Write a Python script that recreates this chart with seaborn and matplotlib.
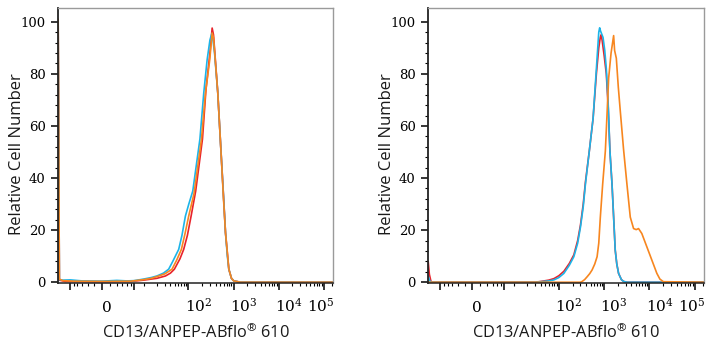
import numpy as np
import pandas as pd
import matplotlib
matplotlib.use("Agg")
import matplotlib.pyplot as plt
import matplotlib.transforms as mtransforms
import seaborn as sns
from matplotlib.ticker import FixedLocator, FixedFormatter

sns.set_theme(style="ticks")
plt.rcParams["font.family"] = ["Open Sans", "DejaVu Sans"]
plt.rcParams["mathtext.fontset"] = "dejavuserif"

# ---------------- data ----------------
series_names = ["Red", "Blue", "Orange"]
series_colors = {"Red": "#e8232b", "Blue": "#1db4e8", "Orange": "#f7861f"}

# left panel
left_red_x = [-11.5, -10.8, -8, 0, 5, 10, 20, 31, 40, 48.9, 65, 78.6, 95, 114.8, 145, 205, 245, 300, 336, 360, 448, 515, 600, 664, 787, 900, 1013, 1430, 1.6e5]
left_red_y = [99, 0.8, 0.3, 0.2, 0.3, 0.8, 1.5, 2.4, 3.5, 5, 9, 12.6, 18, 25.4, 35, 55, 74, 88, 97.6, 95, 72.7, 53.5, 33, 19, 5, 1.5, 0.5, 0, 0]

left_blue_x = [-11.5, -10.8, -9, -6, -3, 0, 2, 4, 6, 10, 15, 20, 28, 36.5, 45, 60.9, 72, 85.8, 102, 125, 180, 219, 260, 300, 330, 345, 380, 448, 515, 600, 664, 730, 787, 900, 1013, 1430, 1.6e5]
left_blue_y = [100, 1.0, 0.8, 0.9, 0.5, 0.4, 0.7, 0.5, 0.6, 1.2, 1.8, 2.4, 3.5, 5, 8, 12.6, 18, 25.4, 30, 35, 55, 72.7, 85.4, 93, 95.5, 94, 88, 72.7, 53.5, 33, 19, 10, 5, 1.5, 0.5, 0, 0]

left_orange_x = [-11.5, -10.8, -9, -5, 0, 5, 10, 15, 22, 30, 43.4, 55, 69.9, 85, 101.5, 133, 195, 239, 297, 336, 360, 448, 515, 600, 664, 787, 900, 1013, 1430, 1.6e5]
left_orange_y = [101, 1.2, 0.6, 0.4, 0.3, 0.4, 1.0, 1.5, 2.4, 3.2, 5, 8.5, 12.6, 19, 25.4, 34, 55, 72.7, 85.4, 95.7, 94, 72.7, 53.5, 32, 19, 5, 1.5, 0.5, 0, 0]

# right panel
right_red_x = [-11.5, -10.8, -10, -9.5, 30, 40, 60, 78, 100, 129, 170, 214, 260, 300, 345, 386, 470, 570, 673, 760, 820, 855, 900, 1000, 1115, 1230, 1340, 1490, 1618, 1755, 1900, 2080, 2400, 2680, 3200, 1.6e5]
right_red_y = [8, 3, 0.5, 0, 0, 0.3, 0.8, 1.4, 2.5, 4.2, 7.2, 10.5, 16, 22, 30, 38.5, 50.4, 63, 80, 90, 94, 95, 93, 87, 80, 67, 50.4, 37.7, 25, 12.3, 7, 3.4, 1, 0.3, 0, 0]

right_blue_x = [-11.5, -10.6, -9.5, 30, 40, 60, 78, 100, 129, 170, 214, 260, 300, 345, 386, 470, 570, 673, 760, 796, 830, 944, 1030, 1115, 1230, 1340, 1490, 1618, 1755, 1900, 2080, 2400, 2680, 3200, 1.6e5]
right_blue_y = [2.4, 0.5, 0, 0, 0.2, 0.5, 0.9, 1.8, 3.4, 6.5, 9.8, 15, 21.2, 29, 37.7, 50.4, 63, 82, 96, 97.7, 96.5, 94, 89, 82, 68, 50.4, 37.7, 25, 12.3, 7, 3.4, 1, 0.3, 0, 0]

right_orange_x = [-11.5, 300, 327, 370, 421, 480, 541, 620, 698, 760, 823, 928, 1062, 1160, 1256, 1420, 1618, 1700, 1855, 2050, 2270, 2680, 3180, 3770, 4460, 5100, 5740, 6780, 8750, 11290, 14560, 17000, 20300, 1.6e5]
right_orange_y = [0, 0, 0.3, 1.0, 2.1, 3.3, 4.7, 7, 9.8, 15, 25, 37.8, 50.4, 65, 78.4, 88, 94.7, 89, 86, 75, 65.7, 51, 37.7, 25, 20.6, 20.2, 20.6, 18.7, 13.6, 8.5, 3.4, 1.2, 0.2, 0]

x_major_ticks = [-6, 0, 6, 100, 1000, 10000, 100000]
x_major_labels = ["", r"$\mathregular{0}$", "", r"$\mathregular{10^2}$", r"$\mathregular{10^3}$", r"$\mathregular{10^4}$", r"$\mathregular{10^5}$"]
x_minor_ticks = [-5, -4, -3, -2, -1, 1, 2, 3, 4, 5, 10, 20, 30, 40, 50, 60, 70, 80, 90,
                 200, 300, 400, 500, 600, 700, 800, 900,
                 2000, 3000, 4000, 5000, 6000, 7000, 8000, 9000,
                 20000, 30000, 40000, 50000, 60000, 70000, 80000, 90000, 150000]
y_major_ticks = [0, 20, 40, 60, 80, 100]
y_minor_ticks = [4, 8, 12, 16, 24, 28, 32, 36, 44, 48, 52, 56, 64, 68, 72, 76, 84, 88, 92, 96]

x_label = r"CD13/ANPEP-ABflo$^{\mathregular{®}}$ 610"
y_label = "Relative Cell Number"

# horizontal nudges (pixels) of the x tick labels, as in the reference
x_label_nudge = [0, 4.5, 0, 10, 10, 10, -3]


def make_df(xs, ys):
    frames = []
    for name, x, y in zip(series_names, xs, ys):
        frames.append(pd.DataFrame({"x": x, "y": y, "series": name}))
    return pd.concat(frames, ignore_index=True)


left_df = make_df([left_red_x, left_blue_x, left_orange_x],
                  [left_red_y, left_blue_y, left_orange_y])
right_df = make_df([right_red_x, right_blue_x, right_orange_x],
                   [right_red_y, right_blue_y, right_orange_y])

W = 2.46


def fwd(x):
    return np.arcsinh(np.asarray(x, dtype=float) / W) / np.log(10)


def inv(d):
    return W * np.sinh(np.asarray(d, dtype=float) * np.log(10))


fig = plt.figure(figsize=(7.12, 3.5), dpi=100)
axes = [fig.add_axes([58 / 712, 1 - 283 / 350, 275 / 712, 275 / 350]),
        fig.add_axes([428 / 712, 1 - 283 / 350, 276 / 712, 275 / 350])]

for ax, df in zip(axes, [left_df, right_df]):
    sns.lineplot(data=df, x="x", y="y", hue="series", hue_order=series_names,
                 palette=series_colors, estimator=None, sort=False,
                 linewidth=1.2, legend=False, ax=ax)
    ax.set_xscale("function", functions=(fwd, inv))
    ax.set_xlim(-11.6, 1.6e5)
    ax.set_ylim(-0.3, 105.3)

    ax.xaxis.set_major_locator(FixedLocator(x_major_ticks))
    ax.xaxis.set_major_formatter(FixedFormatter(x_major_labels))
    ax.xaxis.set_minor_locator(FixedLocator(x_minor_ticks))
    ax.xaxis.set_minor_formatter(FixedFormatter([""] * len(x_minor_ticks)))
    ax.yaxis.set_major_locator(FixedLocator(y_major_ticks))
    ax.yaxis.set_minor_locator(FixedLocator(y_minor_ticks))

    ax.tick_params(axis="both", which="major", direction="out", length=5,
                   width=1.1, color="black", labelcolor="black")
    ax.tick_params(axis="x", which="major", labelsize=11, pad=16)
    ax.tick_params(axis="y", which="major", labelsize=9.5, pad=4)
    ax.tick_params(axis="both", which="minor", direction="out", length=2.4,
                   width=0.8, color="black")

    for side in ["top", "right"]:
        ax.spines[side].set_color("#9a9a9a")
        ax.spines[side].set_linewidth(1.0)
    ax.spines["left"].set_color("#222222")
    ax.spines["left"].set_linewidth(1.3)
    ax.spines["bottom"].set_color("#222222")
    ax.spines["bottom"].set_linewidth(1.1)

    ax.set_xlabel(x_label, fontsize=11.8, color="#1a1a1a")
    ax.set_ylabel(y_label, fontsize=12, color="#1a1a1a")
    ax.xaxis.set_label_coords(0.5, -0.148)
    ax.yaxis.set_label_coords(-0.12, 0.47)

fig.canvas.draw()
for ax in axes:
    for lab in ax.get_yticklabels():
        lab.set_fontfamily("DejaVu Serif")
    for tick, dx in zip(ax.xaxis.get_major_ticks(), x_label_nudge):
        lab = tick.label1
        lab.set_fontfamily("DejaVu Serif")
        lab.set_verticalalignment("baseline")
        lab.set_transform(lab.get_transform() +
                          mtransforms.ScaledTranslation(dx / 100, 0, fig.dpi_scale_trans))

fig.savefig("out.png", dpi=100)
